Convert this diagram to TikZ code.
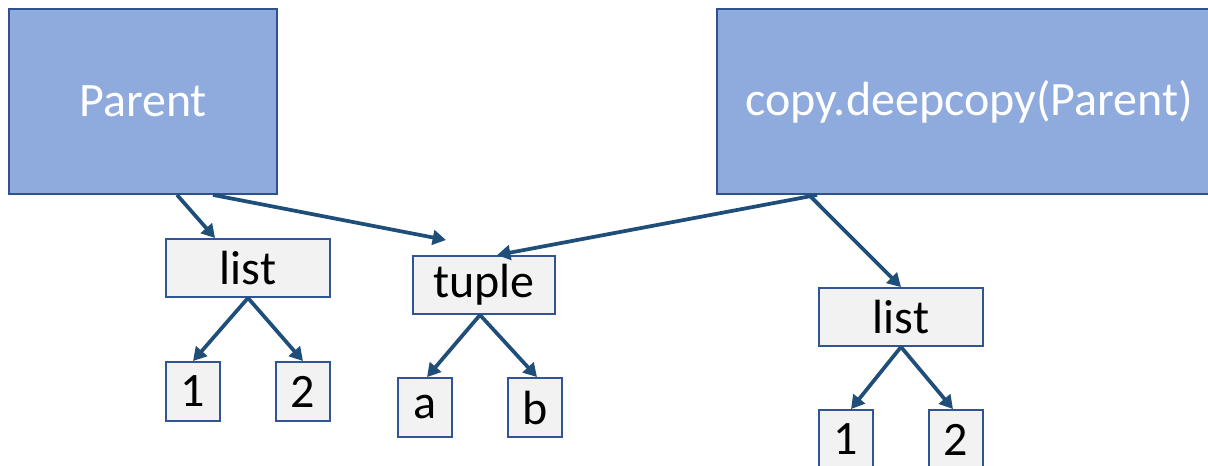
\documentclass[tikz,border=0pt]{standalone}
\usepackage{fontspec}
\setmainfont{Carlito}
\usetikzlibrary{arrows.meta,calc}
\definecolor{bigfill}{HTML}{8FAADC}
\definecolor{bigline}{HTML}{2F528F}
\definecolor{smallfill}{HTML}{F2F2F2}
\definecolor{smallline}{HTML}{2F5597}
\definecolor{arrowc}{HTML}{1F4E79}
\tikzset{
  bigbox/.style={draw=bigline, fill=bigfill, line width=1.4pt, inner sep=0pt,
    text=white, font=\fontsize{36}{42}\selectfont},
  smallbox/.style={draw=smallline, fill=smallfill, line width=1.4pt, inner sep=0pt,
    text=black, font=\fontsize{36}{42}\selectfont},
  conn/.style={draw=arrowc, line width=2.8pt, -{Triangle[length=10pt,width=11pt]}}
}
\begin{document}
\begin{tikzpicture}[x=0.75pt,y=-0.75pt]
\useasboundingbox (0,0) rectangle (1208,465);
\clip (0,0) rectangle (1208,465);
% big boxes
\node[bigbox, minimum width=201pt, minimum height=138.75pt] (parent) at (143,101.5) {Parent};
\node[bigbox, minimum width=378pt, minimum height=138.75pt] (copy) at (969,101.5) {copy.deepcopy(Parent)};
% left list
\node[smallbox, minimum width=123pt, minimum height=43.5pt] (listL) at (248,268) {list};
\node[smallbox, minimum width=40.5pt, minimum height=44.25pt] (oneL) at (193,391.5) {1};
\node[smallbox, minimum width=40.5pt, minimum height=44.25pt] (twoL) at (303,391.5) {2};
% tuple
\node[smallbox, minimum width=106.5pt, minimum height=43.5pt] (tuple) at (484,285) {tuple};
\node[smallbox, minimum width=40.5pt, minimum height=44.25pt] (a) at (425,407.5) {a};
\node[smallbox, minimum width=40.5pt, minimum height=44.25pt] (b) at (535,407.5) {b};
% right list
\node[smallbox, minimum width=123pt, minimum height=43.5pt] (listR) at (901,317) {list};
\node[smallbox, minimum width=40.5pt, minimum height=44.25pt] (oneR) at (846,439.5) {1};
\node[smallbox, minimum width=40.5pt, minimum height=44.25pt] (twoR) at (956,439.5) {2};
% free end of Parent -> tuple
\coordinate (tupleend) at (446,240);
% connectors
\draw[conn] ($(parent.south west)+(169,0)$) -- ($(listL.north west)+(50,0)$);
\draw[conn] ($(parent.south west)+(205,0)$) -- (tupleend);
\draw[conn] ($(copy.south west)+(101,0)$) -- ($(tuple.north west)+(85,0)$);
\draw[conn] ($(copy.south west)+(93,0)$) -- (listR.north);
\draw[conn] (listL.south) -- (oneL.north);
\draw[conn] (listL.south) -- (twoL.north);
\draw[conn] ($(tuple.south)+(-4,0)$) -- ($(a.north)+(2,0)$);
\draw[conn] ($(tuple.south)+(-4,0)$) -- ($(b.north)+(2,0)$);
\draw[conn] (listR.south) -- ($(oneR.north)+(5,0)$);
\draw[conn] (listR.south) -- ($(twoR.north)+(-3,0)$);
\end{tikzpicture}
\end{document}
